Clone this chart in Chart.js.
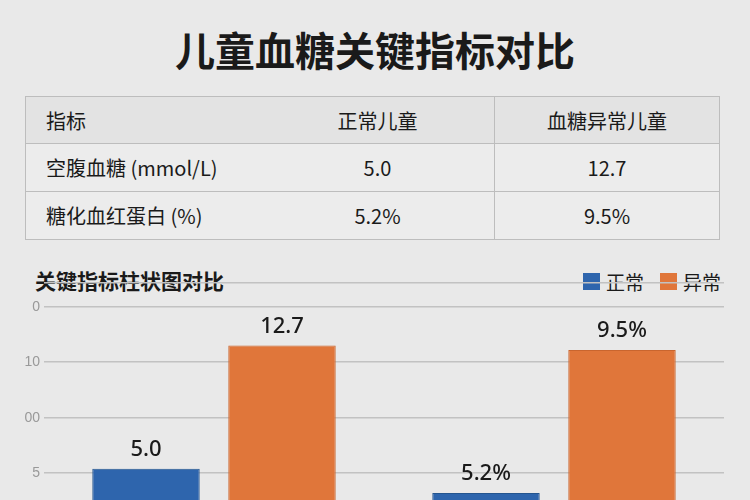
<!DOCTYPE html>
<html>
<head>
<meta charset="utf-8">
<script src="https://cdn.jsdelivr.net/npm/chart.js@4"></script>
<style>
  html, body { margin: 0; padding: 0; width: 750px; height: 500px; overflow: hidden; background: #e9e9e9; font-family: "Noto Sans CJK SC", "Noto Sans", sans-serif; color: #1a1a1a; }
  h1 { position: absolute; left: 0; top: 20px; width: 750px; margin: 0; text-align: center; font-size: 40px; font-weight: 700; }
  table { position: absolute; left: 25px; top: 96px; width: 695px; border-collapse: collapse; font-size: 20px; }
  td { border-top: 1px solid #bdbdbd; border-bottom: 1px solid #bdbdbd; padding: 0; }
  tr.head td { background: #e3e3e3; height: 46px; }
  tr.row td { background: #ececec; height: 47px; }
  td.c1 { padding-left: 20px; width: 215px; border-left: 1px solid #bdbdbd; }
  td.c2 { text-align: center; width: 233px; }
  td.c3 { text-align: center; border-left: 1px solid #bdbdbd; border-right: 1px solid #bdbdbd; }
  .sub { position: absolute; left: 35px; top: 265px; font-size: 21px; font-weight: 700; }
  .legend { position: absolute; left: 583px; top: 268px; font-size: 19px; display: flex; align-items: center; }
  .legend span.box { width: 17px; height: 17px; display: inline-block; margin-right: 6px; }
  #wrap { position: absolute; left: 0; top: 270px; width: 750px; height: 271px; }
</style>
</head>
<body>
<h1>儿童血糖关键指标对比</h1>
<table id="tbl"></table>
<div class="sub">关键指标柱状图对比</div>
<div class="legend">
  <span class="box" style="background:#2e65ad"></span><span style="margin-right:16px">正常</span>
  <span class="box" style="background:#e0763a"></span><span>异常</span>
</div>
<div id="wrap"><canvas id="barChart"></canvas></div>
<script>
const tableHeader = ['指标', '正常儿童', '血糖异常儿童'];
const indicators = ['空腹血糖 (mmol/L)', '糖化血红蛋白 (%)'];
const normalText = ['5.0', '5.2%'];
const abnormalText = ['12.7', '9.5%'];

// bar heights as drawn in the picture (axis units)
const normalBars = [5.4, 3.2];
const abnormalBars = [16.5, 16.1];
const tickLabels = { 5: '5', 10: '00', 15: '10', 20: '0' };

const tbl = document.getElementById('tbl');
let html = '<tr class="head"><td class="c1">' + tableHeader[0] + '</td><td class="c2">' + tableHeader[1] + '</td><td class="c3">' + tableHeader[2] + '</td></tr>';
indicators.forEach((name, i) => {
    html += '<tr class="row"><td class="c1">' + name + '</td><td class="c2">' + normalText[i] + '</td><td class="c3">' + abnormalText[i] + '</td></tr>';
});
tbl.innerHTML = html;

const valueLabels = {
    id: 'valueLabels',
    afterDatasetsDraw(chart) {
        const ctx = chart.ctx;
        const texts = [normalText, abnormalText];
        ctx.save();
        ctx.font = '500 22px "Noto Sans", sans-serif';
        ctx.fillStyle = '#1a1a1a';
        ctx.textAlign = 'center';
        ctx.textBaseline = 'bottom';
        chart.data.datasets.forEach((ds, d) => {
            chart.getDatasetMeta(d).data.forEach((bar, i) => {
                ctx.fillText(texts[d][i], bar.x, bar.y - 8);
            });
        });
        ctx.restore();
    }
};

const ctx = document.getElementById('barChart').getContext('2d');
new Chart(ctx, {
    type: 'bar',
    data: {
        labels: indicators,
        datasets: [
            { label: '正常', data: normalBars, backgroundColor: '#2e65ad', borderColor: '#24558f', borderWidth: 1, categoryPercentage: 0.8, barPercentage: 0.79 },
            { label: '异常', data: abnormalBars, backgroundColor: '#e0763a', borderColor: '#c9652e', borderWidth: 1, categoryPercentage: 0.8, barPercentage: 0.79 }
        ]
    },
    options: {
        responsive: true,
        maintainAspectRatio: false,
        animation: false,
        layout: { padding: { left: 0, right: 26, top: 0, bottom: 0 } },
        plugins: { legend: { display: false }, tooltip: { enabled: false } },
        scales: {
            x: { display: false },
            y: {
                min: 0, max: 22.2,
                afterFit(scale) { scale.width = 44; },
                border: { display: false },
                grid: { color: '#c2c2c2', lineWidth: 1.5, drawTicks: false },
                ticks: {
                    stepSize: 5,
                    color: '#999',
                    font: { size: 14 },
                    padding: 4,
                    callback: v => tickLabels[v] || ''
                }
            }
        }
    },
    plugins: [valueLabels]
});
</script>
</body>
</html>
